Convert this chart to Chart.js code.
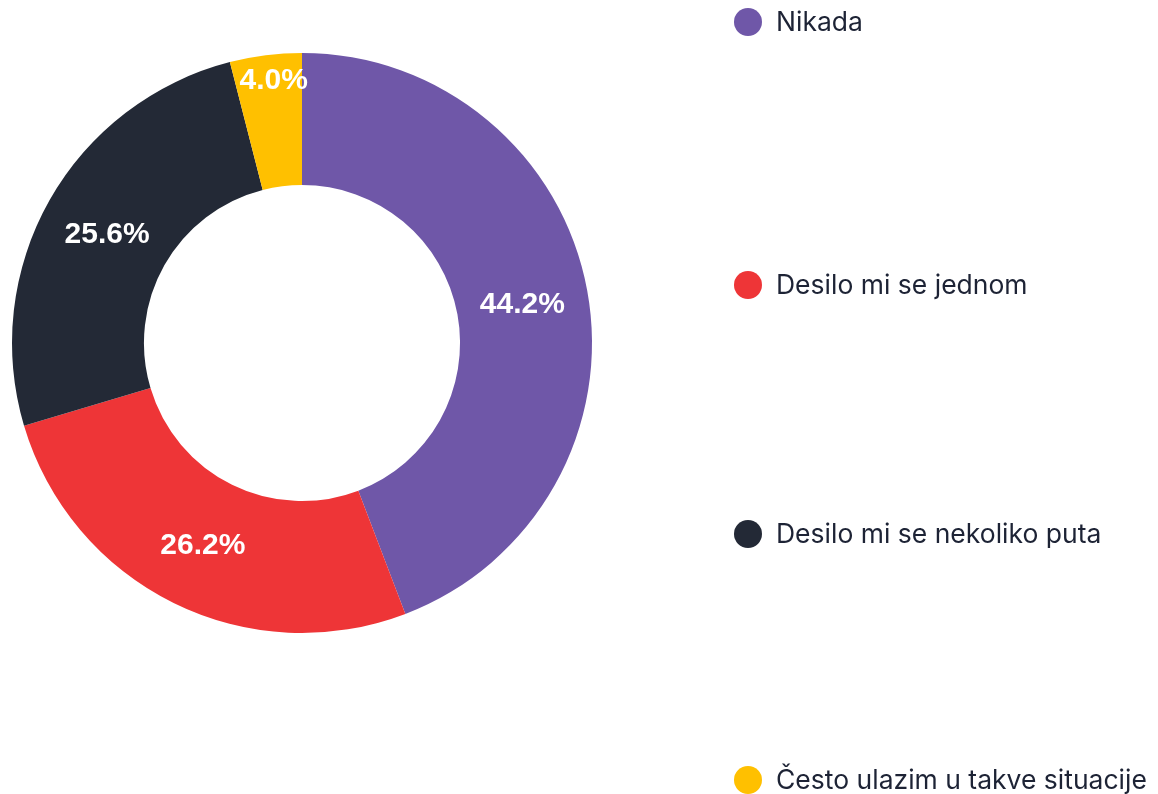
<!DOCTYPE html>
<html>
<head>
<meta charset="utf-8">
<script src="https://cdn.jsdelivr.net/npm/chart.js@4/dist/chart.umd.min.js"></script>
<style>
  html, body { margin: 0; padding: 0; background: #ffffff; }
  #wrap { position: relative; width: 1158px; height: 794px; }
</style>
</head>
<body>
<div id="wrap"><canvas id="chart" width="1158" height="794"></canvas></div>
<script>
const categories = ['Nikada', 'Desilo mi se jednom', 'Desilo mi se nekoliko puta', 'Često ulazim u takve situacije'];
const shares = [44.2, 26.2, 25.6, 4.0];
const sliceColors = ['#6f57a8', '#ee3537', '#232936', '#ffc000'];

// legend row centres (px), legend is drawn by hand
const legendRows = [22, 285, 534, 780];

const sliceLabels = {
  id: 'sliceLabels',
  afterDatasetsDraw(chart) {
    const ctx = chart.ctx;
    const meta = chart.getDatasetMeta(0);
    ctx.save();
    ctx.font = 'bold 30px "Liberation Sans", Arial, sans-serif';
    ctx.fillStyle = '#ffffff';
    ctx.textAlign = 'center';
    ctx.textBaseline = 'middle';
    meta.data.forEach((arc, i) => {
      const p = arc.getProps(['x', 'y', 'startAngle', 'endAngle', 'innerRadius', 'outerRadius'], true);
      const mid = (p.startAngle + p.endAngle) / 2;
      let r = (p.innerRadius + p.outerRadius) / 2;
      let dx = 0;
      if (shares[i] < 10) { r = p.outerRadius - 24; dx = 5; } // small slice: push text out
      ctx.fillText(shares[i].toFixed(1) + '%', p.x + Math.cos(mid) * r + dx, p.y + Math.sin(mid) * r + 2);
    });
    ctx.restore();
  }
};

const sideLegend = {
  id: 'sideLegend',
  afterDraw(chart) {
    const ctx = chart.ctx;
    ctx.save();
    ctx.font = '26.5px Inter, "Noto Sans", sans-serif';
    ctx.textBaseline = 'middle';
    ctx.textAlign = 'left';
    chart.data.labels.forEach((lab, i) => {
      const y = legendRows[i];
      ctx.beginPath();
      ctx.arc(748, y, 14, 0, Math.PI * 2);
      ctx.fillStyle = sliceColors[i];
      ctx.fill();
      ctx.fillStyle = '#1d2335';
      ctx.fillText(lab, 776, y + 1);
    });
    ctx.restore();
  }
};

new Chart(document.getElementById('chart'), {
  type: 'doughnut',
  data: {
    labels: categories,
    datasets: [{
      data: shares,
      backgroundColor: sliceColors,
      borderWidth: 0
    }]
  },
  options: {
    responsive: false,
    animation: false,
    cutout: '54.5%',
    layout: { padding: { left: 12, right: 566, top: 53, bottom: 161 } },
    plugins: {
      legend: { display: false },
      tooltip: { enabled: false }
    }
  },
  plugins: [sliceLabels, sideLegend]
});
</script>
</body>
</html>
